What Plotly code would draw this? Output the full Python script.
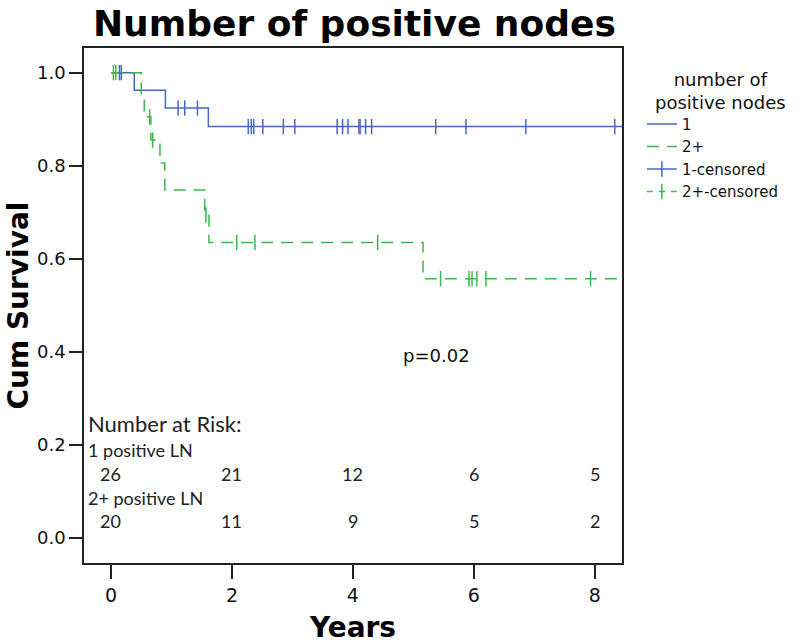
import plotly.graph_objects as go

# ---- data ----
grp1_times = [0, 0.385, 0.90, 1.61, 8.6]
grp1_surv = [1.0, 0.962, 0.924, 0.884, 0.884]
grp1_censor_t = [0.14, 0.17, 1.11, 1.22, 1.43, 2.27, 2.32, 2.36, 2.51, 2.85, 3.04,
                 3.74, 3.83, 3.92, 4.10, 4.12, 4.21, 4.31, 5.37, 5.87, 6.86, 8.33]

grp2_times = [0, 0.50, 0.55, 0.66, 0.81, 0.89, 1.55, 1.62, 5.16, 8.6]
grp2_surv = [1.0, 0.95, 0.905, 0.855, 0.806, 0.748, 0.694, 0.635, 0.557, 0.557]
grp2_censor_t = [0.04, 0.08, 0.64, 0.69, 1.57, 2.08, 2.38, 4.41, 5.45, 5.92, 5.97,
                 6.05, 6.20, 7.93]

risk_times = [0, 2, 4, 6, 8]
risk_grp1 = [26, 21, 12, 6, 5]
risk_grp2 = [20, 11, 9, 5, 2]
p_text = "p=0.02"
legend_title = "number of<br>positive nodes"

BLUE = "#4668c8"
GREEN = "#3cb84a"


def step_value(times, surv, t):
    v = surv[0]
    for ti, si in zip(times, surv):
        if ti <= t:
            v = si
    return v


def gapped(ts, times, surv):
    xs, ys = [], []
    for t in ts:
        xs += [t, None]
        ys += [step_value(times, surv, t), None]
    return xs, ys


fig = go.Figure()
fig.add_trace(go.Scatter(x=grp1_times, y=grp1_surv, mode="lines", name="1",
                         line=dict(color=BLUE, width=1.5, shape="hv")))
fig.add_trace(go.Scatter(x=grp2_times, y=grp2_surv, mode="lines", name="2+",
                         line=dict(color=GREEN, width=1.5, shape="hv", dash="12px,8px")))
cx1, cy1 = gapped(grp1_censor_t, grp1_times, grp1_surv)
fig.add_trace(go.Scatter(x=cx1, y=cy1, mode="lines+markers", name="1-censored",
                         line=dict(color=BLUE, width=1.5),
                         marker=dict(symbol="line-ns-open", size=11,
                                     line=dict(color=BLUE, width=1.5))))
cx2, cy2 = gapped(grp2_censor_t, grp2_times, grp2_surv)
fig.add_trace(go.Scatter(x=cx2, y=cy2, mode="lines+markers", name="2+-censored",
                         line=dict(color=GREEN, width=1.5, dash="6px,6px"),
                         marker=dict(symbol="line-ns-open", size=11,
                                     line=dict(color=GREEN, width=1.5))))

ann_font = dict(family="Lato, Open Sans, sans-serif", color="#222", size=18)
annotations = [
    dict(x=-0.41, y=0.245, text="Number at Risk:", xanchor="left",
         font=dict(family="Lato, Open Sans, sans-serif", size=22, color="#222")),
    dict(x=-0.41, y=0.189, text="1 positive LN", xanchor="left", font=ann_font),
    dict(x=-0.41, y=0.086, text="2+ positive LN", xanchor="left", font=ann_font),
    dict(x=5.39, y=0.393, text=p_text,
         font=dict(family="DejaVu Sans", size=18, color="#111")),
]
for t, n in zip(risk_times, risk_grp1):
    annotations.append(dict(x=t, y=0.138, text=str(n), font=ann_font))
for t, n in zip(risk_times, risk_grp2):
    annotations.append(dict(x=t, y=0.037, text=str(n), font=ann_font))
for a in annotations:
    a.update(xref="x", yref="y", showarrow=False)

# legend title drawn as a centred two-line annotation (paper coords)
annotations.append(dict(x=1.183, y=0.9165, xref="paper", yref="paper",
                        text=legend_title, showarrow=False, xanchor="center",
                        yanchor="middle", align="center",
                        font=dict(family="DejaVu Sans", size=18, color="#111")))

fig.update_layout(
    width=800, height=644,
    margin=dict(l=84, r=178, t=48, b=81, autoexpand=False),
    paper_bgcolor="white", plot_bgcolor="white",
    title=dict(text="<b>Number of positive nodes</b>", x=0.443, xanchor="center",
               y=0.963, yanchor="middle",
               font=dict(family="DejaVu Sans", size=36, color="black")),
    xaxis=dict(range=[-0.446, 8.45], tickvals=risk_times, ticks="outside", ticklen=14,
               tickwidth=1.5, tickcolor="#222", showline=True, linecolor="#222",
               linewidth=1.5, mirror=True, showgrid=False, zeroline=False,
               automargin=False,
               tickfont=dict(family="DejaVu Sans", size=19, color="#111"),
               title=dict(text="<b>Years</b>", standoff=16,
                          font=dict(family="DejaVu Sans", size=28, color="black"))),
    yaxis=dict(range=[-0.054, 1.053], tickvals=[0, 0.2, 0.4, 0.6, 0.8, 1.0],
               ticktext=["0.0", "0.2", "0.4", "0.6", "0.8", "1.0"],
               ticks="outside", ticklen=13, tickwidth=1.5, tickcolor="#222",
               showline=True, linecolor="#222", linewidth=1.5, mirror=True,
               showgrid=False, zeroline=False, automargin=False,
               tickfont=dict(family="DejaVu Sans", size=18, color="#111"),
               title=dict(text="<b>Cum Survival</b>", standoff=0,
                          font=dict(family="DejaVu Sans", size=28, color="black"))),
    legend=dict(x=1.037, y=0.884, xanchor="left", yanchor="top",
                font=dict(family="DejaVu Sans", size=15, color="#111"),
                itemwidth=30, tracegroupgap=0, bgcolor="rgba(0,0,0,0)"),
    annotations=annotations,
    showlegend=True,
)

fig.write_html("out.html", config={"displayModeBar": False},
               post_script="document.body.style.margin='0px';")
